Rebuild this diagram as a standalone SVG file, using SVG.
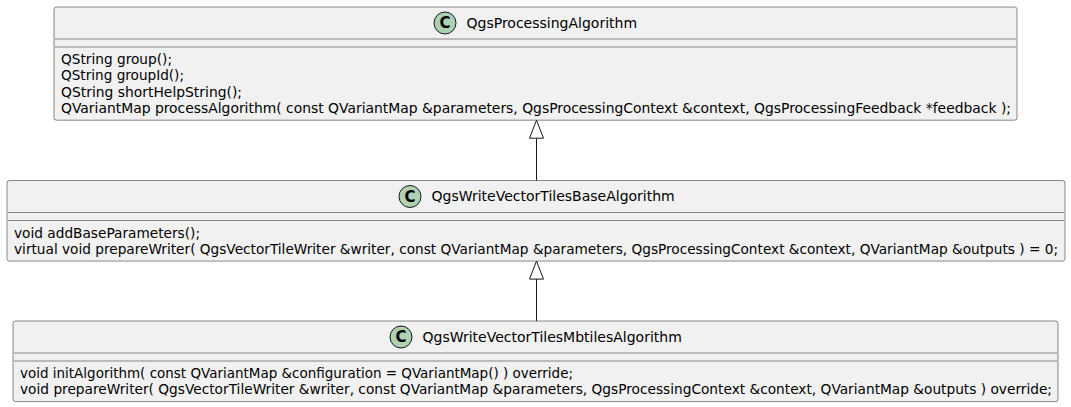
<svg xmlns="http://www.w3.org/2000/svg" width="1071" height="407" viewBox="0 0 1071 407">
<defs>
<style>
.box{fill:#F1F1F1;stroke:#181818;stroke-width:0.5}
.sep{stroke:#181818;stroke-width:0.5}
.circ{fill:#ADD1B2;stroke:#181818;stroke-width:1}
.t{font-family:"DejaVu Sans",sans-serif;font-size:14px;fill:#000000}
.m{font-family:"DejaVu Sans",sans-serif;font-size:13.6px;fill:#000000}
.c{font-family:"DejaVu Sans",sans-serif;font-size:15px;font-weight:bold;fill:#000000;text-anchor:middle}
.edge{stroke:#181818;stroke-width:1;fill:none}
.head{fill:#FFFFFF;stroke:#181818;stroke-width:1}
</style>
</defs>
<rect width="1071" height="407" fill="#FFFFFF"/>
<g id="QgsProcessingAlgorithm">
<rect class="box" x="54" y="7" width="963" height="113.2" rx="2.5" ry="2.5"/>
<ellipse class="circ" cx="445" cy="23" rx="11" ry="11"/>
<text class="c" x="445" y="28.3">C</text>
<text class="t" x="466.5" y="27.85">QgsProcessingAlgorithm</text>
<line class="sep" x1="55" y1="39" x2="1016" y2="39"/>
<line class="sep" x1="55" y1="47" x2="1016" y2="47"/>
<text class="m" x="61" y="64.1" textLength="111" lengthAdjust="spacingAndGlyphs">QString group();</text>
<text class="m" x="61" y="80.4" textLength="123" lengthAdjust="spacingAndGlyphs">QString groupId();</text>
<text class="m" x="61" y="96.7" textLength="181" lengthAdjust="spacingAndGlyphs">QString shortHelpString();</text>
<text class="m" x="61" y="113" textLength="950" lengthAdjust="spacingAndGlyphs">QVariantMap processAlgorithm( const QVariantMap &amp;parameters, QgsProcessingContext &amp;context, QgsProcessingFeedback *feedback );</text>
</g>
<g id="QgsWriteVectorTilesBaseAlgorithm">
<rect class="box" x="7" y="180.5" width="1058" height="80.6" rx="2.5" ry="2.5"/>
<ellipse class="circ" cx="410" cy="196.5" rx="11" ry="11"/>
<text class="c" x="410" y="201.8">C</text>
<text class="t" x="431.5" y="201.35">QgsWriteVectorTilesBaseAlgorithm</text>
<line class="sep" x1="8" y1="212.5" x2="1064" y2="212.5"/>
<line class="sep" x1="8" y1="220.5" x2="1064" y2="220.5"/>
<text class="m" x="14" y="237.6" textLength="186" lengthAdjust="spacingAndGlyphs">void addBaseParameters();</text>
<text class="m" x="14" y="253.9" textLength="1044" lengthAdjust="spacingAndGlyphs">virtual void prepareWriter( QgsVectorTileWriter &amp;writer, const QVariantMap &amp;parameters, QgsProcessingContext &amp;context, QVariantMap &amp;outputs ) = 0;</text>
</g>
<g id="QgsWriteVectorTilesMbtilesAlgorithm">
<rect class="box" x="13" y="321" width="1045" height="80.6" rx="2.5" ry="2.5"/>
<ellipse class="circ" cx="401" cy="337" rx="11" ry="11"/>
<text class="c" x="401" y="342.3">C</text>
<text class="t" x="422.5" y="341.85">QgsWriteVectorTilesMbtilesAlgorithm</text>
<line class="sep" x1="14" y1="353" x2="1057" y2="353"/>
<line class="sep" x1="14" y1="361" x2="1057" y2="361"/>
<text class="m" x="20" y="378.1" textLength="553" lengthAdjust="spacingAndGlyphs">void initAlgorithm( const QVariantMap &amp;configuration = QVariantMap() ) override;</text>
<text class="m" x="20" y="394.4" textLength="1032" lengthAdjust="spacingAndGlyphs">void prepareWriter( QgsVectorTileWriter &amp;writer, const QVariantMap &amp;parameters, QgsProcessingContext &amp;context, QVariantMap &amp;outputs ) override;</text>
</g>
<g id="connectors">
<line class="edge" x1="536.5" y1="180.5" x2="536.5" y2="138.2"/>
<polygon class="head" points="536.5,120.2 529.5,138.2 543.5,138.2"/>
<line class="edge" x1="536.5" y1="321" x2="536.5" y2="279.1"/>
<polygon class="head" points="536.5,261.1 529.5,279.1 543.5,279.1"/>
</g>
</svg>
